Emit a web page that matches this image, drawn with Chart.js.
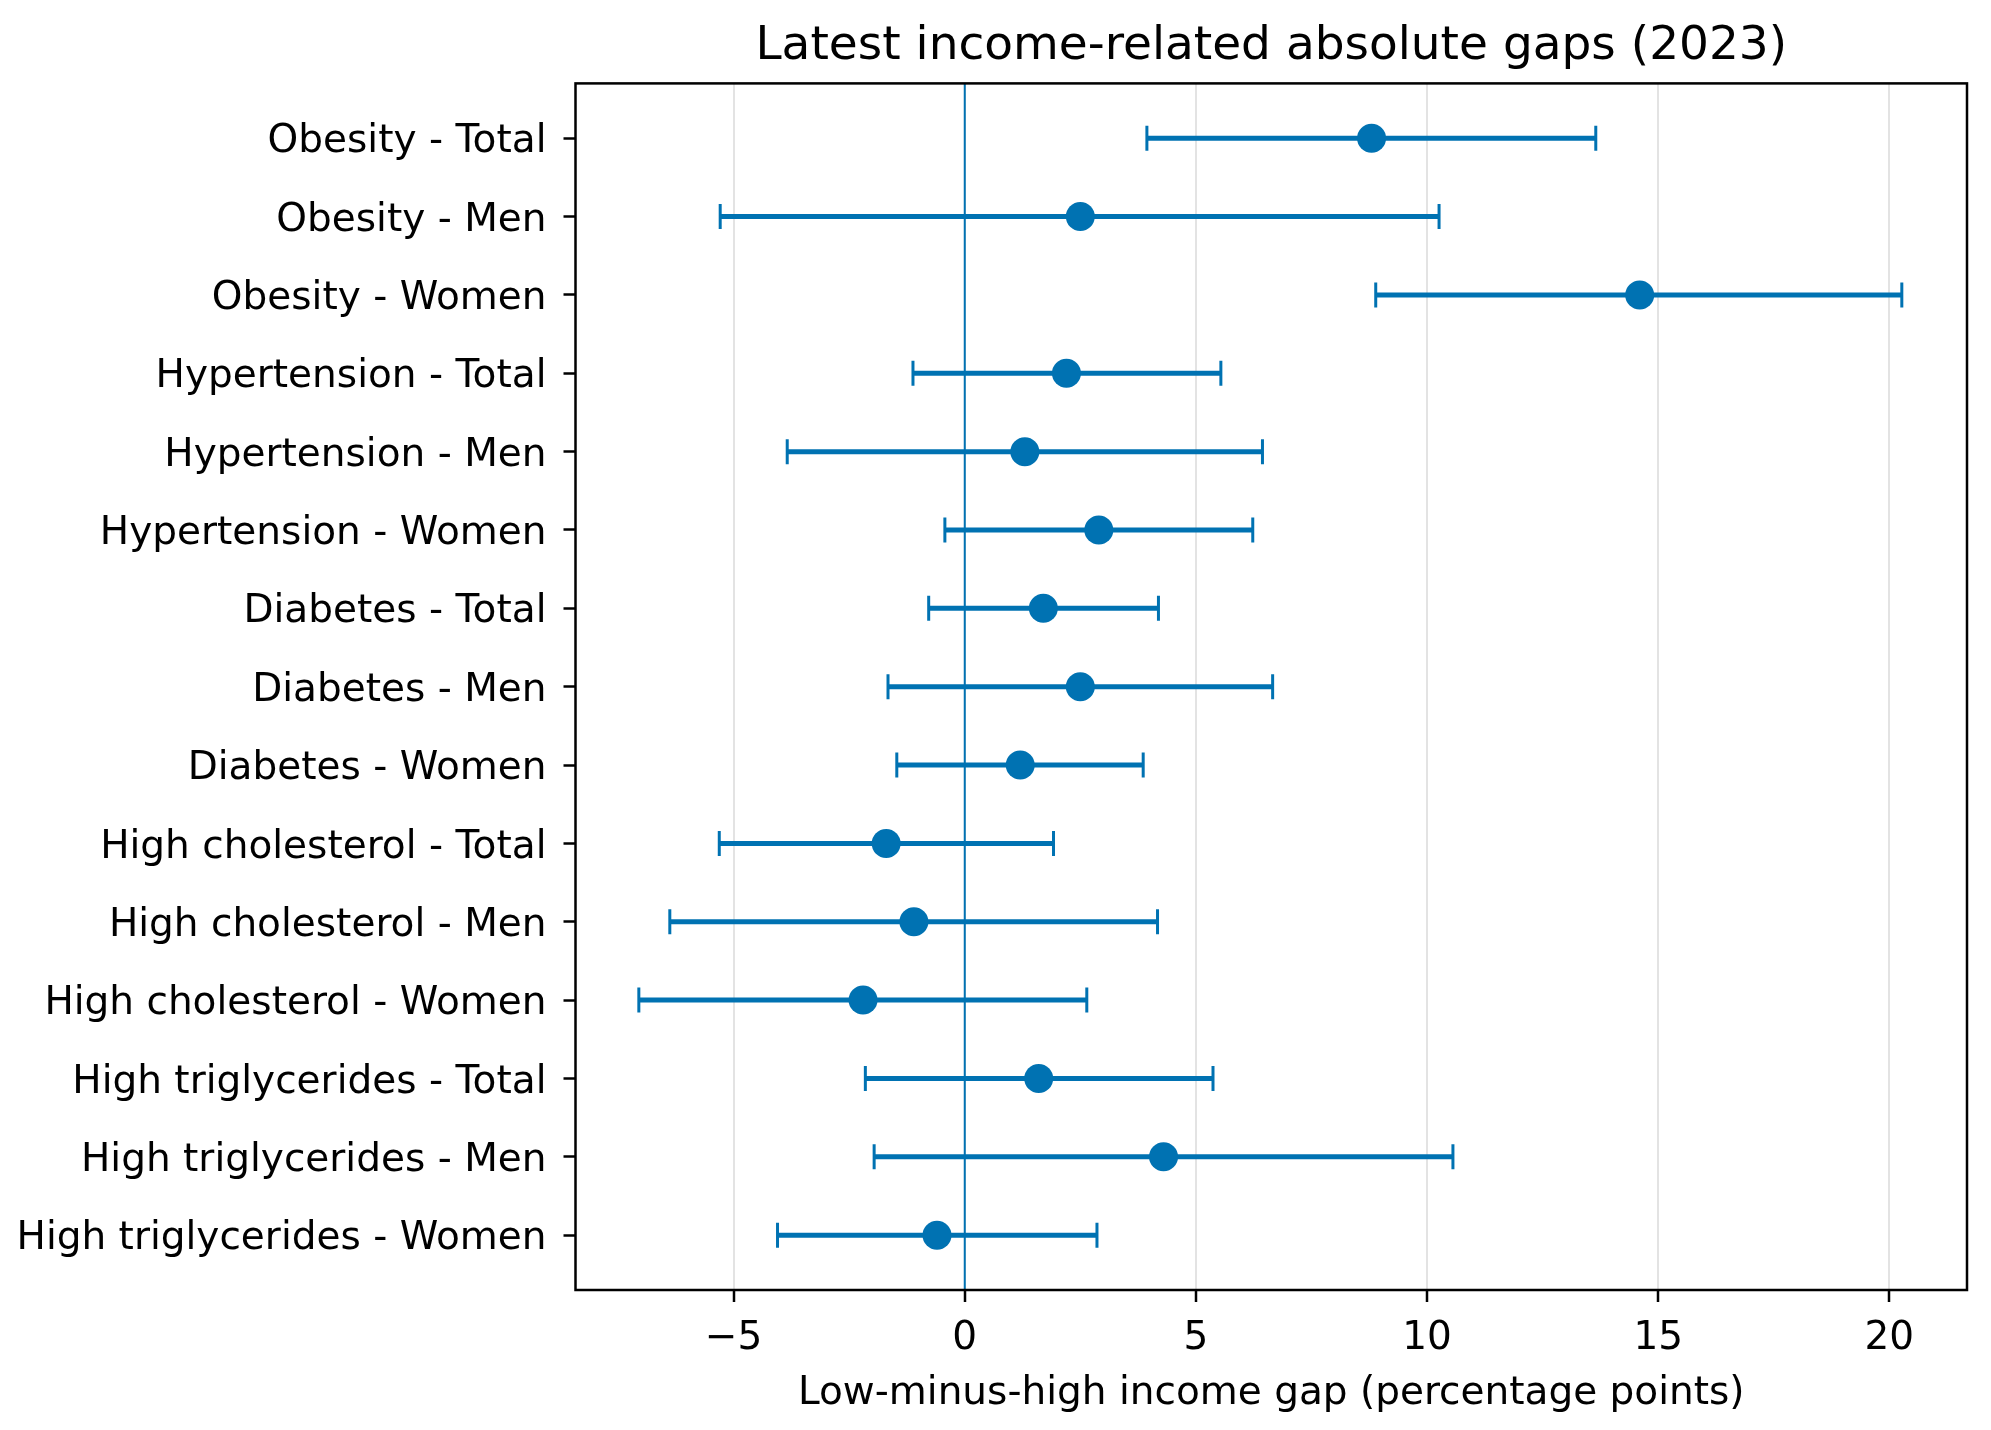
<!DOCTYPE html>
<html>
<head>
<meta charset="utf-8">
<script src="https://cdn.jsdelivr.net/npm/chart.js@4.4.1/dist/chart.umd.min.js"></script>
<style>
  html, body { margin: 0; padding: 0; background: #fff; }
  #wrap { width: 1991px; height: 1430px; }
</style>
</head>
<body>
<div id="wrap"><canvas id="chart" width="1991" height="1430"></canvas></div>
<script>
const categories = [
  'Obesity - Total', 'Obesity - Men', 'Obesity - Women',
  'Hypertension - Total', 'Hypertension - Men', 'Hypertension - Women',
  'Diabetes - Total', 'Diabetes - Men', 'Diabetes - Women',
  'High cholesterol - Total', 'High cholesterol - Men', 'High cholesterol - Women',
  'High triglycerides - Total', 'High triglycerides - Men', 'High triglycerides - Women'
]
const gapValues = [8.8, 2.5, 14.6, 2.2, 1.3, 2.9, 1.7, 2.5, 1.2, -1.7, -1.1, -2.2, 1.6, 4.3, -0.6]
const ciLow = [3.94, -5.29, 8.89, -1.12, -3.84, -0.43, -0.78, -1.66, -1.47, -5.31, -6.38, -7.05, -2.15, -1.96, -4.05]
const ciHigh = [13.65, 10.26, 20.27, 5.54, 6.44, 6.23, 4.19, 6.66, 3.86, 1.92, 4.17, 2.64, 5.37, 10.56, 2.86]
const xTicks = [-5, 0, 5, 10, 15, 20]

const blue = '#0072b2'
Chart.defaults.font.family = "'DejaVu Sans', sans-serif"
Chart.defaults.color = '#000'

// one small line per row for the interval, caps drawn as rotated line points
const errorSets = categories.map((c, i) => ({
  type: 'scatter',
  showLine: true,
  data: [{ x: ciLow[i], y: i }, { x: ciHigh[i], y: i }],
  borderColor: blue,
  borderWidth: 5,
  pointStyle: 'line',
  rotation: 90,
  pointRadius: 12.5,
  pointBorderWidth: 3,
  pointBorderColor: blue,
  order: 2
}))

const pointSet = {
  type: 'scatter',
  data: gapValues.map((v, i) => ({ x: v, y: i })),
  backgroundColor: blue,
  borderWidth: 0,
  pointRadius: 14.5,
  order: 1
}

const refLine = {
  id: 'refLine',
  beforeDatasetsDraw(chart) {
    const { ctx, chartArea, scales } = chart
    const x = scales.x.getPixelForValue(0)
    ctx.save()
    ctx.strokeStyle = blue
    ctx.lineWidth = 2
    ctx.beginPath()
    ctx.moveTo(x, chartArea.top)
    ctx.lineTo(x, chartArea.bottom)
    ctx.stroke()
    ctx.restore()
  },
  afterDatasetsDraw(chart) {
    const { ctx, chartArea } = chart
    ctx.save()
    ctx.strokeStyle = '#000'
    ctx.lineWidth = 2.5
    ctx.strokeRect(chartArea.left, chartArea.top, chartArea.right - chartArea.left, chartArea.bottom - chartArea.top)
    ctx.restore()
  }
}

new Chart(document.getElementById('chart'), {
  type: 'scatter',
  data: { datasets: [pointSet, ...errorSets] },
  options: {
    responsive: false,
    animation: false,
    devicePixelRatio: 1,
    layout: { padding: { top: 0, right: 24, bottom: 0, left: 0 } },
    plugins: {
      legend: { display: false },
      tooltip: { enabled: false },
      title: {
        display: true,
        fullSize: false,
        text: 'Latest income-related absolute gaps (2023)',
        font: { size: 47, weight: 'normal' },
        color: '#000',
        padding: { top: 19, bottom: 8 }
      }
    },
    scales: {
      x: {
        type: 'linear',
        min: -8.42,
        max: 21.68,
        afterBuildTicks: s => { s.ticks = xTicks.map(v => ({ value: v })) },
        afterFit: s => { s.height = 140 },
        ticks: {
          font: { size: 39 },
          padding: 13,
          callback: v => v < 0 ? '\u2212' + Math.abs(v) : String(v)
        },
        grid: {
          color: '#e3e3e3',
          lineWidth: 2,
          tickColor: '#000',
          tickWidth: 2.5,
          tickLength: 12
        },
        border: { display: false },
        title: {
          display: true,
          text: 'Low-minus-high income gap (percentage points)',
          font: { size: 39 },
          padding: { top: 0, bottom: 13 }
        }
      },
      y: {
        type: 'linear',
        reverse: true,
        min: -0.7,
        max: 14.7,
        afterBuildTicks: s => { s.ticks = categories.map((c, i) => ({ value: i })) },
        afterFit: s => { s.width = 575.5 },
        ticks: {
          autoSkip: false,
          font: { size: 39 },
          padding: 17,
          labelOffset: 4,
          callback: v => categories[v]
        },
        grid: {
          drawOnChartArea: false,
          tickColor: '#000',
          tickWidth: 2.5,
          tickLength: 12
        },
        border: { display: false }
      }
    }
  },
  plugins: [refLine]
})
</script>
</body>
</html>
